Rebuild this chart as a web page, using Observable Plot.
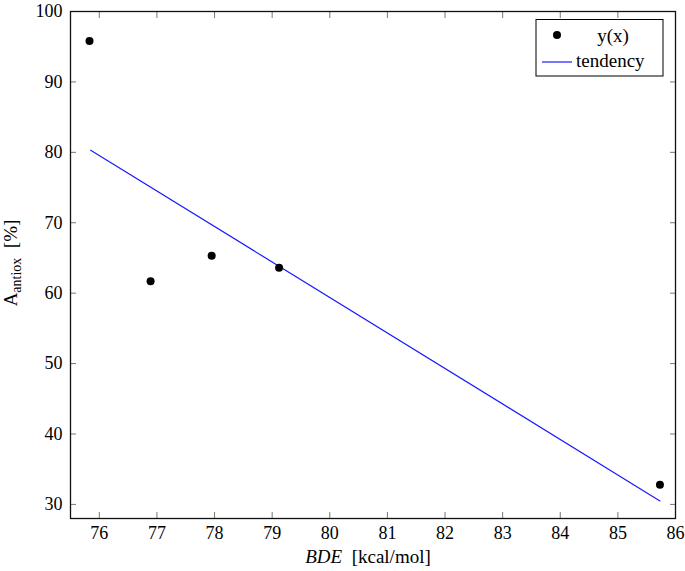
<!DOCTYPE html>
<html>
<head>
<meta charset="utf-8">
<script src="https://cdn.jsdelivr.net/npm/d3@7"></script>
<script src="https://cdn.jsdelivr.net/npm/@observablehq/plot@0.6"></script>
<style>
  html, body { margin: 0; padding: 0; background: #fff; }
  #chart { width: 685px; height: 571px; }
  #chart svg, #chart svg text { font-family: "Liberation Serif", "Times New Roman", "DejaVu Serif", serif !important; }
</style>
</head>
<body>
<div id="chart"></div>
<script>
// Data
const bde = [75.83, 76.89, 77.95, 79.12, 85.73];
const antiox = [95.8, 61.7, 65.3, 63.6, 32.8];
const trendBde = [75.85, 85.73];
const trendAntiox = [80.3, 30.5];
const xTicks = [76, 77, 78, 79, 80, 81, 82, 83, 84, 85, 86];
const yTicks = [30, 40, 50, 60, 70, 80, 90, 100];
const legendLabels = ["y(x)", "tendency"];

const points = bde.map((x, i) => ({x, y: antiox[i]}));
const trend = trendBde.map((x, i) => ({x, y: trendAntiox[i]}));

const tickColor = "#777";

const plot = Plot.plot({
  width: 685,
  height: 571,
  marginLeft: 70,
  marginRight: 10,
  marginTop: 11,
  marginBottom: 53,
  style: {fontSize: "18px", color: "#000", background: "#fff"},
  x: {domain: [75.5, 86]},
  y: {domain: [28, 100]},
  marks: [
    Plot.axisX(xTicks, {anchor: "bottom", tickSize: -6, stroke: tickColor, label: null, tickPadding: 14, fontSize: 18, fill: "#000"}),
    Plot.axisX(xTicks, {anchor: "top", tickSize: -6, stroke: tickColor, label: null, text: null}),
    Plot.axisY(yTicks, {anchor: "left", tickSize: -6, stroke: tickColor, label: null, tickPadding: 14, fontSize: 18, fill: "#000"}),
    Plot.axisY(yTicks, {anchor: "right", tickSize: -6, stroke: tickColor, label: null, text: null}),
    Plot.line(trend, {x: "x", y: "y", stroke: "#1a1aff", strokeWidth: 1.2}),
    Plot.dot(points, {x: "x", y: "y", r: 4, fill: "#000", stroke: null}),
    Plot.frame({stroke: "#111", strokeWidth: 1.3})
  ]
});
document.getElementById("chart").appendChild(plot);

// Axis labels with subscript / italics, and legend
const svg = d3.select(plot);
const yl = svg.append("text")
  .attr("transform", "translate(17,263) rotate(-90)")
  .attr("text-anchor", "middle")
  .style("font-size", "19px").attr("fill", "#000");
yl.append("tspan").text("A");
yl.append("tspan").attr("font-size", "14px").attr("dy", "4").text("antiox");
yl.append("tspan").attr("dy", "-4").text("\u2002[%]");

const xl = svg.append("text")
  .attr("x", 368).attr("y", 563)
  .attr("text-anchor", "middle")
  .style("font-size", "19px").attr("fill", "#000");
xl.append("tspan").attr("font-style", "italic").text("BDE");
xl.append("tspan").text("\u2002[kcal/mol]");

const lg = svg.append("g");
lg.append("rect").attr("x", 536).attr("y", 19.5).attr("width", 127).attr("height", 56.5)
  .attr("fill", "#fff").attr("stroke", "#000").attr("stroke-width", 1);
lg.append("circle").attr("cx", 557).attr("cy", 35).attr("r", 4).attr("fill", "#000");
lg.append("text").attr("x", 613).attr("y", 42).attr("text-anchor", "middle")
  .style("font-size", "19px").attr("fill", "#000").text(legendLabels[0]);
lg.append("line").attr("x1", 542).attr("x2", 572).attr("y1", 62).attr("y2", 62)
  .attr("stroke", "#1a1aff").attr("stroke-width", 1.2);
lg.append("text").attr("x", 576).attr("y", 67).attr("text-anchor", "start")
  .style("font-size", "19px").attr("fill", "#000").text(legendLabels[1]);
</script>
</body>
</html>
